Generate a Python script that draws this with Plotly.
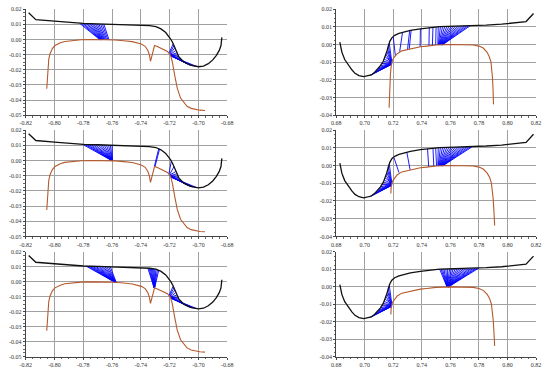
import plotly.graph_objects as go

# ---------------- data ----------------
left_x_ticks = [-0.82, -0.80, -0.78, -0.76, -0.74, -0.72, -0.70, -0.68]
left_x_labels = ["-0.82", "-0.80", "-0.78", "-0.76", "-0.74", "-0.72", "-0.70", "-0.68"]
left_y_ticks = [0.02, 0.01, 0.00, -0.01, -0.02, -0.03, -0.04, -0.05]
left_y_labels = ["0.02", "0.01", "0.00", "-0.01", "-0.02", "-0.03", "-0.04", "-0.05"]
right_x_ticks = [0.68, 0.70, 0.72, 0.74, 0.76, 0.78, 0.80, 0.82]
right_x_labels = ["0.68", "0.70", "0.72", "0.74", "0.76", "0.78", "0.80", "0.82"]
right_y_ticks = [0.02, 0.01, 0.00, -0.01, -0.02, -0.03, -0.04]
right_y_labels = ["0.02", "0.01", "0.00", "-0.01", "-0.02", "-0.03", "-0.04"]

black_left_x = [-0.8180, -0.8130, -0.8000, -0.7900, -0.7800, -0.7700, -0.7600, -0.7500, -0.7400,
                -0.7340, -0.7295, -0.7260, -0.7227, -0.7205, -0.7193, -0.7180, -0.7169, -0.7158,
                -0.7135, -0.7101, -0.7056, -0.7000, -0.6965, -0.6931, -0.6900, -0.6875, -0.6855,
                -0.6843, -0.6837]
black_left_y = [0.0176, 0.0131, 0.0121, 0.0113, 0.0106, 0.0103, 0.0101, 0.0099, 0.0095,
                0.0091, 0.0085, 0.0070, 0.0046, 0.0022, 0.0003, -0.0018, -0.0040, -0.0073,
                -0.0116, -0.0149, -0.0170, -0.0180, -0.0176, -0.0160, -0.0135, -0.0105, -0.0072,
                -0.0040, 0.0014]

brown_left_x = [-0.8054, -0.8051, -0.8047, -0.8040, -0.8031, -0.8015, -0.7997, -0.7960, -0.7929,
                -0.7870, -0.7815, -0.7740, -0.7657, -0.7580, -0.7520, -0.7460, -0.7397, -0.7370,
                -0.7351, -0.7340, -0.7333, -0.7325, -0.7317, -0.7305, -0.7285, -0.7260, -0.7235,
                -0.7215, -0.7193, -0.7181, -0.7165, -0.7147, -0.7124, -0.7100, -0.7079, -0.7050,
                -0.7022, -0.6990, -0.6954]
brown_left_y = [-0.0326, -0.0260, -0.0192, -0.0130, -0.0094, -0.0060, -0.0040, -0.0022, -0.0013,
                -0.0006, -0.0002, 0.0000, 0.0000, -0.0003, -0.0008, -0.0014, -0.0030, -0.0045,
                -0.0073, -0.0105, -0.0144, -0.0112, -0.0079, -0.0040, -0.0047, -0.0058, -0.0068,
                -0.0079, -0.0105, -0.0149, -0.0235, -0.0322, -0.0387, -0.0420, -0.0441, -0.0455,
                -0.0462, -0.0467, -0.0469]

black_right_x = [0.6826, 0.6832, 0.6840, 0.6860, 0.6886, 0.6910, 0.6932, 0.6960, 0.6993, 0.7020,
                 0.7046, 0.7070, 0.7091, 0.7110, 0.7130, 0.7143, 0.7155, 0.7165, 0.7176, 0.7190,
                 0.7210, 0.7240, 0.7280, 0.7320, 0.7390, 0.7450, 0.7525, 0.7630, 0.7731, 0.7850,
                 0.7959, 0.8050, 0.8130, 0.8182]
black_right_y = [0.0013, -0.0015, -0.0043, -0.0085, -0.0117, -0.0143, -0.0163, -0.0176, -0.0182, -0.0179,
                 -0.0172, -0.0157, -0.0140, -0.0120, -0.0095, -0.0070, -0.0040, -0.0010, 0.0018, 0.0038,
                 0.0052, 0.0063, 0.0072, 0.0080, 0.0089, 0.0095, 0.0101, 0.0104, 0.0106, 0.0110,
                 0.0115, 0.0121, 0.0130, 0.0176]

brown_right1_x = [0.7171, 0.7173, 0.7176, 0.7180, 0.7185, 0.7194, 0.7210, 0.7228, 0.7260, 0.7319,
                  0.7390, 0.7434, 0.7500, 0.7600, 0.7700, 0.7760, 0.7800, 0.7830, 0.7856, 0.7872,
                  0.7884, 0.7891, 0.7895, 0.7899, 0.7902]
brown_right1_y = [-0.0358, -0.0300, -0.0230, -0.0170, -0.0125, -0.0089, -0.0068, -0.0052, -0.0036, -0.0024,
                  -0.0013, -0.0009, -0.0003, 0.0000, 0.0000, -0.0003, -0.0009, -0.0020, -0.0043, -0.0068,
                  -0.0098, -0.0140, -0.0191, -0.0260, -0.0339]
brown_right2_x = [0.7183, 0.7185, 0.7194, 0.7210, 0.7228, 0.7260, 0.7319,
                  0.7390, 0.7434, 0.7500, 0.7600, 0.7700, 0.7760, 0.7800, 0.7830, 0.7858, 0.7875,
                  0.7887, 0.7895, 0.7900, 0.7905, 0.7910]
brown_right2_y = [-0.0158, -0.0125, -0.0089, -0.0068, -0.0052, -0.0036, -0.0024,
                  -0.0013, -0.0009, -0.0003, 0.0000, 0.0000, -0.0003, -0.0009, -0.0020, -0.0043, -0.0068,
                  -0.0098, -0.0140, -0.0191, -0.0260, -0.0338]

# tie lines: (x on black, y on black, x on brown, y on brown)
ties_tl = [
    (-0.7825, 0.0106, -0.7685, -0.0001), (-0.7812, 0.0106, -0.7682, -0.0001),
    (-0.7800, 0.0106, -0.7679, -0.0001), (-0.7788, 0.0105, -0.7676, -0.0001),
    (-0.7776, 0.0105, -0.7673, -0.0001), (-0.7764, 0.0104, -0.7670, 0.0000),
    (-0.7752, 0.0104, -0.7667, 0.0000), (-0.7740, 0.0104, -0.7664, 0.0000),
    (-0.7728, 0.0103, -0.7660, 0.0000), (-0.7716, 0.0103, -0.7656, 0.0000),
    (-0.7704, 0.0103, -0.7651, 0.0000), (-0.7692, 0.0102, -0.7645, 0.0000),
    (-0.7680, 0.0102, -0.7638, 0.0000), (-0.7668, 0.0102, -0.7630, 0.0000),
    (-0.7657, 0.0101, -0.7622, -0.0001),
    (-0.7175, -0.0028, -0.7203, -0.0088), (-0.7169, -0.0040, -0.7200, -0.0092),
    (-0.7163, -0.0055, -0.7198, -0.0096), (-0.7158, -0.0073, -0.7196, -0.0100),
    (-0.7150, -0.0088, -0.7194, -0.0103), (-0.7142, -0.0103, -0.7193, -0.0105),
    (-0.7135, -0.0116, -0.7198, -0.0095), (-0.7120, -0.0131, -0.7196, -0.0099),
    (-0.7101, -0.0149, -0.7195, -0.0101), (-0.7085, -0.0157, -0.7194, -0.0103),
    (-0.7070, -0.0165, -0.7193, -0.0105), (-0.7056, -0.0170, -0.7192, -0.0107),
    (-0.7040, -0.0174, -0.7192, -0.0108), (-0.7025, -0.0177, -0.7191, -0.0109),
    (-0.7010, -0.0179, -0.7190, -0.0110),
]
ties_ml = [
    (-0.7805, 0.0106, -0.7604, 0.0000), (-0.7790, 0.0106, -0.7603, 0.0000),
    (-0.7775, 0.0105, -0.7603, 0.0000), (-0.7760, 0.0105, -0.7602, 0.0000),
    (-0.7745, 0.0104, -0.7602, 0.0000), (-0.7730, 0.0104, -0.7601, 0.0000),
    (-0.7715, 0.0103, -0.7601, 0.0000), (-0.7700, 0.0103, -0.7600, 0.0000),
    (-0.7685, 0.0103, -0.7600, 0.0000), (-0.7670, 0.0102, -0.7600, 0.0000),
    (-0.7655, 0.0102, -0.7599, 0.0000), (-0.7640, 0.0102, -0.7599, 0.0000),
    (-0.7625, 0.0101, -0.7598, 0.0000), (-0.7612, 0.0101, -0.7598, 0.0000),
    (-0.7600, 0.0101, -0.7597, 0.0000),
    (-0.7276, 0.0077, -0.7306, -0.0040), (-0.7270, 0.0074, -0.7302, -0.0042),
    (-0.7188, -0.0005, -0.7205, -0.0088),
    (-0.7169, -0.0040, -0.7200, -0.0092), (-0.7158, -0.0073, -0.7198, -0.0096),
    (-0.7150, -0.0088, -0.7196, -0.0100), (-0.7142, -0.0103, -0.7194, -0.0103),
    (-0.7135, -0.0116, -0.7198, -0.0095), (-0.7120, -0.0131, -0.7196, -0.0099),
    (-0.7101, -0.0149, -0.7195, -0.0101), (-0.7085, -0.0157, -0.7194, -0.0103),
    (-0.7070, -0.0165, -0.7193, -0.0105), (-0.7056, -0.0170, -0.7192, -0.0107),
    (-0.7040, -0.0174, -0.7192, -0.0108), (-0.7025, -0.0177, -0.7191, -0.0109),
    (-0.7010, -0.0179, -0.7190, -0.0110),
]
ties_bl = [
    (-0.7782, 0.0106, -0.7580, -0.0003), (-0.7770, 0.0105, -0.7579, -0.0003),
    (-0.7758, 0.0105, -0.7578, -0.0003), (-0.7746, 0.0104, -0.7578, -0.0003),
    (-0.7734, 0.0104, -0.7577, -0.0003), (-0.7722, 0.0104, -0.7577, -0.0003),
    (-0.7710, 0.0103, -0.7576, -0.0003), (-0.7698, 0.0103, -0.7576, -0.0003),
    (-0.7686, 0.0103, -0.7575, -0.0002), (-0.7674, 0.0102, -0.7575, -0.0002),
    (-0.7662, 0.0102, -0.7574, -0.0002), (-0.7650, 0.0102, -0.7574, -0.0002),
    (-0.7637, 0.0101, -0.7573, -0.0002), (-0.7624, 0.0101, -0.7573, -0.0002),
    (-0.7612, 0.0101, -0.7572, -0.0002),
    (-0.7351, 0.0091, -0.7308, -0.0040), (-0.7343, 0.0091, -0.7308, -0.0040),
    (-0.7335, 0.0090, -0.7307, -0.0040), (-0.7327, 0.0089, -0.7307, -0.0040),
    (-0.7319, 0.0088, -0.7306, -0.0040), (-0.7311, 0.0087, -0.7306, -0.0040),
    (-0.7303, 0.0086, -0.7305, -0.0040), (-0.7295, 0.0085, -0.7305, -0.0040),
    (-0.7285, 0.0081, -0.7305, -0.0040), (-0.7276, 0.0077, -0.7304, -0.0040),
    (-0.7175, -0.0028, -0.7203, -0.0088), (-0.7169, -0.0040, -0.7200, -0.0092),
    (-0.7163, -0.0055, -0.7198, -0.0096), (-0.7158, -0.0073, -0.7196, -0.0100),
    (-0.7150, -0.0088, -0.7194, -0.0103), (-0.7142, -0.0103, -0.7193, -0.0105),
    (-0.7135, -0.0116, -0.7198, -0.0095), (-0.7120, -0.0131, -0.7196, -0.0099),
    (-0.7101, -0.0149, -0.7195, -0.0101), (-0.7085, -0.0157, -0.7194, -0.0103),
    (-0.7070, -0.0165, -0.7193, -0.0105), (-0.7056, -0.0170, -0.7192, -0.0107),
    (-0.7040, -0.0174, -0.7192, -0.0108), (-0.7025, -0.0177, -0.7191, -0.0109),
    (-0.7010, -0.0179, -0.7190, -0.0110),
]
ties_tr = [
    (0.7172, 0.0008, 0.7190, -0.0100), (0.7165, -0.0010, 0.7189, -0.0102),
    (0.7160, -0.0025, 0.7188, -0.0104), (0.7155, -0.0040, 0.7188, -0.0106),
    (0.7149, -0.0055, 0.7187, -0.0107), (0.7143, -0.0070, 0.7190, -0.0100),
    (0.7137, -0.0083, 0.7189, -0.0102), (0.7130, -0.0095, 0.7188, -0.0104),
    (0.7120, -0.0108, 0.7188, -0.0106), (0.7110, -0.0120, 0.7187, -0.0107),
    (0.7100, -0.0131, 0.7187, -0.0108), (0.7091, -0.0140, 0.7186, -0.0109),
    (0.7080, -0.0149, 0.7186, -0.0110), (0.7070, -0.0157, 0.7186, -0.0111),
    (0.7058, -0.0165, 0.7185, -0.0112), (0.7046, -0.0172, 0.7185, -0.0113),
    (0.7033, -0.0176, 0.7185, -0.0114),
    (0.7200, 0.0042, 0.7215, -0.0066), (0.7265, 0.0069, 0.7245, -0.0040),
    (0.7315, 0.0079, 0.7300, -0.0027), (0.7325, 0.0081, 0.7312, -0.0025),
    (0.7390, 0.0089, 0.7388, -0.0013), (0.7452, 0.0095, 0.7450, -0.0007),
    (0.7478, 0.0098, 0.7474, -0.0005), (0.7500, 0.0099, 0.7497, -0.0003),
    (0.7515, 0.0100, 0.7512, -0.0002), (0.7530, 0.0101, 0.7516, -0.0002),
    (0.7545, 0.0101, 0.7519, -0.0002), (0.7560, 0.0102, 0.7522, -0.0001),
    (0.7575, 0.0102, 0.7524, -0.0001), (0.7590, 0.0103, 0.7526, -0.0001),
    (0.7605, 0.0103, 0.7528, -0.0001), (0.7620, 0.0104, 0.7530, -0.0001),
    (0.7635, 0.0104, 0.7532, -0.0001), (0.7650, 0.0104, 0.7534, -0.0001),
    (0.7665, 0.0105, 0.7536, -0.0001), (0.7680, 0.0105, 0.7538, -0.0001),
    (0.7695, 0.0105, 0.7540, -0.0001), (0.7710, 0.0106, 0.7542, -0.0001),
    (0.7725, 0.0106, 0.7544, -0.0001), (0.7738, 0.0106, 0.7546, -0.0001),
]
ties_mr = [
    (0.7172, 0.0008, 0.7190, -0.0100), (0.7165, -0.0010, 0.7189, -0.0102),
    (0.7160, -0.0025, 0.7188, -0.0104), (0.7155, -0.0040, 0.7188, -0.0106),
    (0.7149, -0.0055, 0.7187, -0.0107), (0.7143, -0.0070, 0.7190, -0.0100),
    (0.7137, -0.0083, 0.7189, -0.0102), (0.7130, -0.0095, 0.7188, -0.0104),
    (0.7120, -0.0108, 0.7188, -0.0106), (0.7110, -0.0120, 0.7187, -0.0107),
    (0.7100, -0.0131, 0.7187, -0.0108), (0.7091, -0.0140, 0.7186, -0.0109),
    (0.7080, -0.0149, 0.7186, -0.0110), (0.7070, -0.0157, 0.7186, -0.0111),
    (0.7058, -0.0165, 0.7185, -0.0112), (0.7046, -0.0172, 0.7185, -0.0113),
    (0.7033, -0.0176, 0.7185, -0.0114),
    (0.7205, 0.0045, 0.7240, -0.0040), (0.7295, 0.0075, 0.7318, -0.0024),
    (0.7440, 0.0094, 0.7448, -0.0007), (0.7478, 0.0098, 0.7484, -0.0005),
    (0.7497, 0.0099, 0.7503, -0.0003),
    (0.7515, 0.0100, 0.7512, -0.0002), (0.7530, 0.0101, 0.7515, -0.0002),
    (0.7545, 0.0101, 0.7518, -0.0002), (0.7560, 0.0102, 0.7521, -0.0001),
    (0.7575, 0.0102, 0.7524, -0.0001), (0.7590, 0.0103, 0.7526, -0.0001),
    (0.7605, 0.0103, 0.7528, -0.0001), (0.7620, 0.0104, 0.7530, -0.0001),
    (0.7635, 0.0104, 0.7532, -0.0001), (0.7650, 0.0104, 0.7534, -0.0001),
    (0.7665, 0.0105, 0.7536, -0.0001), (0.7680, 0.0105, 0.7538, -0.0001),
    (0.7695, 0.0105, 0.7540, -0.0001), (0.7710, 0.0106, 0.7542, -0.0001),
    (0.7725, 0.0106, 0.7544, -0.0001), (0.7740, 0.0106, 0.7546, -0.0001),
    (0.7755, 0.0107, 0.7548, -0.0001),
]
ties_br = [
    (0.7172, 0.0008, 0.7190, -0.0100), (0.7165, -0.0010, 0.7189, -0.0102),
    (0.7160, -0.0025, 0.7188, -0.0104), (0.7155, -0.0040, 0.7188, -0.0106),
    (0.7149, -0.0055, 0.7187, -0.0107), (0.7143, -0.0070, 0.7190, -0.0100),
    (0.7137, -0.0083, 0.7189, -0.0102), (0.7130, -0.0095, 0.7188, -0.0104),
    (0.7120, -0.0108, 0.7188, -0.0106), (0.7110, -0.0120, 0.7187, -0.0107),
    (0.7100, -0.0131, 0.7187, -0.0108), (0.7091, -0.0140, 0.7186, -0.0109),
    (0.7080, -0.0149, 0.7186, -0.0110), (0.7070, -0.0157, 0.7186, -0.0111),
    (0.7058, -0.0165, 0.7185, -0.0112), (0.7046, -0.0172, 0.7185, -0.0113),
    (0.7033, -0.0176, 0.7185, -0.0114),
    (0.7525, 0.0101, 0.7576, 0.0000), (0.7535, 0.0101, 0.7577, 0.0000),
    (0.7545, 0.0101, 0.7577, 0.0000), (0.7555, 0.0102, 0.7578, 0.0000),
    (0.7568, 0.0102, 0.7578, 0.0000), (0.7581, 0.0102, 0.7579, 0.0000),
    (0.7594, 0.0103, 0.7579, 0.0000), (0.7607, 0.0103, 0.7580, 0.0000),
    (0.7620, 0.0104, 0.7580, 0.0000), (0.7634, 0.0104, 0.7581, 0.0000),
    (0.7648, 0.0104, 0.7581, 0.0000), (0.7662, 0.0105, 0.7582, 0.0000),
    (0.7676, 0.0105, 0.7582, 0.0000), (0.7690, 0.0105, 0.7583, 0.0000),
    (0.7704, 0.0106, 0.7583, 0.0000), (0.7718, 0.0106, 0.7584, 0.0000),
    (0.7732, 0.0106, 0.7584, 0.0000), (0.7746, 0.0107, 0.7585, 0.0000),
    (0.7760, 0.0107, 0.7585, 0.0000), (0.7774, 0.0107, 0.7586, 0.0000),
    (0.7788, 0.0108, 0.7586, 0.0000), (0.7800, 0.0108, 0.7586, 0.0000),
]

# ---------------- styling ----------------
BLACK = "#111111"
BROWN = "#b4592c"
BLUE = "#0000ff"
GRID = "#a0a0a0"

W, H = 550, 373
left_dom = [20.2 / W, 226.1 / W]
right_dom = [337.5 / W, 541.9 / W]
row_doms = [[1 - 114.0 / H, 1 - 6.3 / H],
            [1 - 237.3 / H, 1 - 129.1 / H],
            [1 - 359.5 / H, 1 - 253.0 / H]]

panels = [
    ("L", 0, brown_left_x, brown_left_y, ties_tl),
    ("R", 0, brown_right1_x, brown_right1_y, ties_tr),
    ("L", 1, brown_left_x, brown_left_y, ties_ml),
    ("R", 1, brown_right2_x, brown_right2_y, ties_mr),
    ("L", 2, brown_left_x, brown_left_y, ties_bl),
    ("R", 2, brown_right2_x, brown_right2_y, ties_br),
]

fig = go.Figure()
tickfont = dict(family="Liberation Serif, Times New Roman, serif", size=6, color="#333333")

for i, (side, row, bx, by, ties) in enumerate(panels, start=1):
    xa = "x" if i == 1 else f"x{i}"
    ya = "y" if i == 1 else f"y{i}"
    tx, ty = [], []
    for (x0, y0, x1, y1) in ties:
        tx += [x0, x1, None]
        ty += [y0, y1, None]
    fig.add_trace(go.Scatter(x=tx, y=ty, mode="lines", line=dict(color=BLUE, width=0.9),
                             xaxis=xa, yaxis=ya, showlegend=False, hoverinfo="skip"))
    fig.add_trace(go.Scatter(x=bx, y=by, mode="lines", line=dict(color=BROWN, width=1.1),
                             xaxis=xa, yaxis=ya, showlegend=False))
    blx = black_left_x if side == "L" else black_right_x
    bly = black_left_y if side == "L" else black_right_y
    fig.add_trace(go.Scatter(x=blx, y=bly, mode="lines", line=dict(color=BLACK, width=1.3),
                             xaxis=xa, yaxis=ya, showlegend=False))

    if side == "L":
        xt, xl, yt, yl = left_x_ticks, left_x_labels, left_y_ticks, left_y_labels
        xr, yr, xd = [-0.82, -0.68], [-0.05, 0.02], left_dom
    else:
        xt, xl, yt, yl = right_x_ticks, right_x_labels, right_y_ticks, right_y_labels
        xr, yr, xd = [0.68, 0.82], [-0.04, 0.02], right_dom
    common = dict(showgrid=True, gridcolor=GRID, gridwidth=0.8, zeroline=False,
                  showline=True, linecolor="#444444", linewidth=1, mirror=False,
                  ticks="outside", ticklen=2, tickwidth=0.8, tickcolor="#444444",
                  tickfont=tickfont, tickmode="array")
    fig.layout[f"xaxis{'' if i == 1 else i}"] = dict(
        common, domain=xd, range=xr, tickvals=xt, ticktext=xl, anchor=ya,
        minor=dict(tickmode="linear", tick0=0, dtick=0.005, ticks="outside", ticklen=1.5,
                   tickcolor="#666666", showgrid=False))
    fig.layout[f"yaxis{'' if i == 1 else i}"] = dict(
        common, domain=row_doms[row], range=yr, tickvals=yt, ticktext=yl, anchor=xa,
        minor=dict(tickmode="linear", tick0=0, dtick=0.0025, ticks="outside", ticklen=1.5,
                   tickcolor="#666666", showgrid=False))

fig.update_layout(width=W, height=H, margin=dict(l=0, r=0, t=0, b=0),
                  paper_bgcolor="white", plot_bgcolor="white", showlegend=False)
fig.write_html("out.html", config={"displayModeBar": False},
               post_script="document.body.style.margin='0';")
